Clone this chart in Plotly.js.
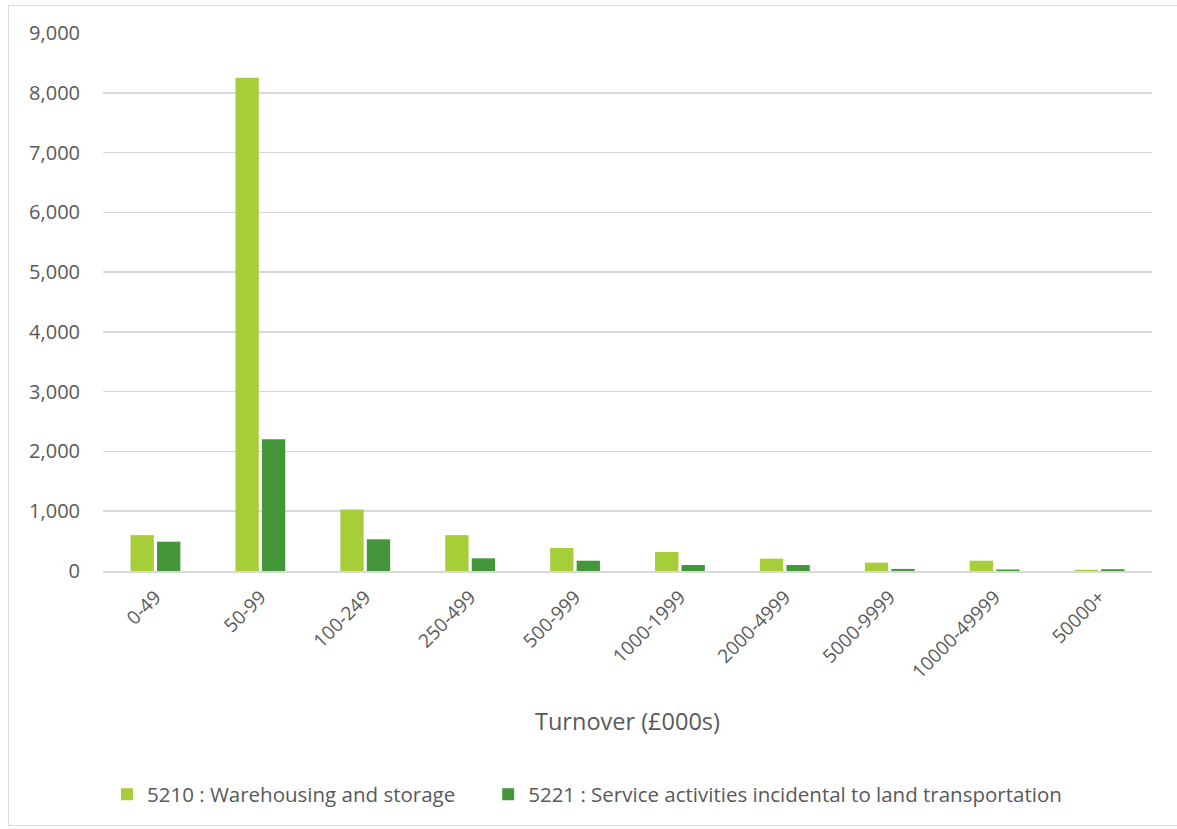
<!DOCTYPE html>
<html><head><meta charset="utf-8">
<script src="https://cdn.plot.ly/plotly-3.0.1.min.js"></script>
<style>
body{margin:0;background:#fff;overflow:hidden;}
#frame{position:absolute;left:8px;top:5px;width:1200px;height:821px;border:1px solid #d9d9d9;box-sizing:border-box;}
#chart{position:absolute;left:0;top:0;width:1177px;height:829px;}
</style></head>
<body>
<div id="frame"></div>
<div id="chart"></div>
<script>
const categories = ["0-49","50-99","100-249","250-499","500-999","1000-1999","2000-4999","5000-9999","10000-49999","50000+"];
const warehousing = [600, 8250, 1030, 600, 385, 318, 206, 140, 172, 20];
const serviceActivities = [490, 2205, 530, 212, 172, 100, 100, 35, 25, 30];
const seriesNames = ["5210 : Warehousing and storage", "5221 : Service activities incidental to land transportation"];

const traces = [
  {type:"bar", x:categories, y:warehousing, name:seriesNames[0], marker:{color:"#A6CE39"}, legend:"legend"},
  {type:"bar", x:categories, y:serviceActivities, name:seriesNames[1], marker:{color:"#43963A"}, legend:"legend2"}
];
const font = "'Open Sans', sans-serif";
const legendStyle = {orientation:"h", yanchor:"top", y:-0.378, xanchor:"left",
  font:{size:20.5, color:"#595959"}, itemwidth:30, bgcolor:"rgba(0,0,0,0)"};
const layout = {
  width:1177, height:829,
  paper_bgcolor:"rgba(0,0,0,0)", plot_bgcolor:"rgba(0,0,0,0)",
  margin:{l:103, r:25, t:33, b:258},
  barmode:"group", bargap:0.495, bargroupgap:0.12,
  font:{family:font, color:"#595959", size:17},
  xaxis:{
    tickangle:-45, tickfont:{size:19, color:"#595959"},
    showline:true, linecolor:"#d9d9d9", linewidth:1.5, ticks:"", ticklabelstandoff:6,
    title:{text:"Turnover (£000s)", font:{size:23.5, color:"#595959"}, standoff:30}
  },
  yaxis:{
    range:[0,9000], dtick:1000, tickformat:",d",
    gridcolor:"#d9d9d9", gridwidth:1.5, zeroline:false,
    tickfont:{size:20, color:"#595959"}, ticklen:0, ticks:"", ticklabelstandoff:22
  },
  legend:Object.assign({}, legendStyle, {x:0.0038}),
  legend2:Object.assign({}, legendStyle, {x:0.3672}),
  showlegend:true
};
Plotly.newPlot("chart", traces, layout, {displayModeBar:false, staticPlot:true});
</script>
</body></html>
